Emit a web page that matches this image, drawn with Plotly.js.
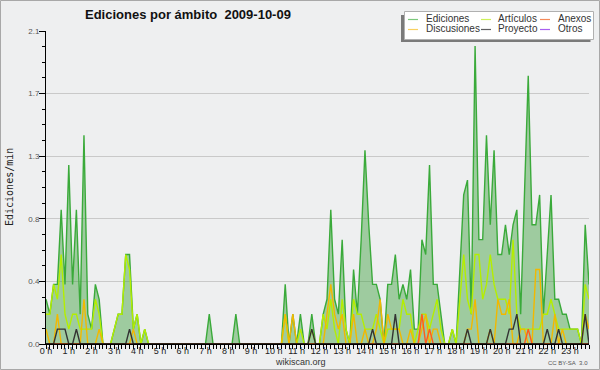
<!DOCTYPE html>
<html>
<head>
<meta charset="utf-8">
<script src="https://cdn.plot.ly/plotly-3.0.1.min.js"></script>
<style>
html,body{margin:0;padding:0;background:#eeeff0;}
#chart{width:600px;height:370px;}
</style>
</head>
<body>
<div id="chart"></div>
<script>
// ---- data (10-minute bins, edits per minute) ----
var chartTitle = "Ediciones por ámbito\u00a0 2009-10-09";
var yAxisTitle = "Ediciones/min";
var seriesNames = ["Ediciones", "Artículos", "Anexos", "Discusiones", "Proyecto", "Otros"];
var hourLabels = ["0 h","1 h","2 h","3 h","4 h","5 h","6 h","7 h","8 h","9 h","10 h","11 h",
                  "12 h","13 h","14 h","15 h","16 h","17 h","18 h","19 h","20 h","21 h","22 h","23 h"];
var yTickValues = [0, 0.42, 0.84, 1.26, 1.68, 2.1];
var yTickLabels = ["0.0", "0.4", "0.8", "1.3", "1.7", "2.1"];

var ediciones = [
0.3,0.2,0.4,0.4,0.9,0.4,1.2,0.4,0.9,0.2,1.4,0.2,
0.1,0.4,0.3,0,0,0,0.1,0.2,0.2,0.6,0.6,0.1,
0.2,0,0.1,0,0,0,0,0,0,0,0,0,
0,0,0,0,0,0,0,0.2,0,0,0,0,
0,0,0.2,0,0,0,0,0,0,0,0,0,
0,0,0,0.4,0,0.2,0,0.2,0,0,0.2,0,
0,0.2,0.3,0.9,0.3,0.2,0.7,0.1,0,0.5,0.2,0.7,
1.3,0.8,0.4,0.4,0.3,0,0.4,0.4,0.6,0.3,0.4,0.3,
0.5,0.1,0.1,0.7,0.6,1.2,0.4,0.4,0.2,0,0,0.1,
0,0.5,1.0,1.1,0.2,2.0,0.7,0.7,1.4,0.8,1.3,0.6,
0.6,0.8,0.6,0.8,0.9,0.2,1.0,1.8,0.8,0.8,1.0,0.2,
0.6,1.0,0.3,0.3,0.2,0.2,0.1,0.1,0.1,0,0.8,0.4];

var articulos = [
0.2,0.2,0.4,0.3,0.6,0.2,0.1,0.2,0.2,0.1,0.1,0.1,
0.1,0.3,0.2,0,0,0,0.1,0.2,0.2,0.6,0.5,0.1,
0.2,0,0.1,0,0,0,0,0,0,0,0,0,
0,0,0,0,0,0,0,0,0,0,0,0,
0,0,0,0,0,0,0,0,0,0,0,0,
0,0,0,0.2,0,0,0,0.1,0,0,0.1,0,
0,0.2,0.1,0.3,0.1,0,0.3,0.1,0,0.3,0.2,0.2,
0.1,0.1,0.1,0.2,0.1,0,0.1,0.1,0.1,0.1,0.3,0.2,
0.2,0,0.1,0.2,0.2,0.1,0.2,0.3,0.1,0,0,0.1,
0,0.3,0.6,0.3,0.2,0.6,0.6,0.3,0.4,0.6,0.4,0.3,
0.3,0.3,0.2,0.7,0.2,0.1,0.1,0.1,0.1,0.1,0.1,0.2,
0.2,0.3,0.2,0.1,0.1,0.1,0.1,0.1,0.1,0,0.4,0.3];

var anexos = [
0,0,0,0,0,0,0,0,0,0,0,0,
0,0,0,0,0,0,0,0,0,0,0,0,
0,0,0,0,0,0,0,0,0,0,0,0,
0,0,0,0,0,0,0,0,0,0,0,0,
0,0,0,0,0,0,0,0,0,0,0,0,
0,0,0,0,0,0,0,0,0,0,0,0,
0,0,0,0,0,0,0,0,0,0,0,0,
0,0,0,0,0,0,0,0,0,0,0,0,
0,0,0,0.2,0,0.1,0,0,0,0,0,0,
0,0,0,0,0,0,0,0,0,0,0,0,
0,0,0,0,0,0,0,0.1,0,0,0,0,
0,0,0,0,0,0,0,0,0,0,0,0];

var discusiones = [
0.1,0,0,0.2,0,0,0,0,0,0,0.3,0,
0,0,0.1,0,0,0,0,0,0,0,0,0.1,
0,0,0,0,0,0,0,0,0,0,0,0,
0,0,0,0,0,0,0,0,0,0,0,0,
0,0,0,0,0,0,0,0,0,0,0,0,
0,0,0,0.2,0,0.2,0,0,0,0,0,0,
0,0,0.2,0.4,0.2,0.1,0.2,0,0,0.2,0,0,
0.1,0,0,0.1,0.3,0,0.2,0.1,0.1,0.1,0,0,
0.1,0,0,0.1,0.2,0,0.1,0.1,0,0,0,0,
0,0,0,0.1,0.1,0.3,0,0,0,0.1,0,0.3,
0.2,0.2,0.3,0,0,0.1,0.1,0,0,0.5,0.5,0,
0,0,0.2,0,0.1,0,0,0,0,0,0.2,0.1];

var proyecto = [
0,0,0,0.1,0.1,0.1,0,0,0.1,0,0,0,
0,0,0,0,0,0,0,0,0,0,0.1,0,
0,0,0,0,0,0,0,0,0,0,0,0,
0,0,0,0,0,0,0,0,0,0,0,0,
0,0,0,0,0,0,0,0,0,0,0,0,
0,0,0,0,0,0,0,0,0,0,0.1,0,
0,0,0,0,0,0,0,0,0,0,0,0,
0,0,0.1,0,0,0,0,0,0.2,0,0,0,
0,0,0,0,0,0,0,0,0,0,0,0,
0,0,0,0.1,0,0,0,0,0,0.1,0,0,
0,0,0.1,0.1,0.2,0,0,0,0,0,0,0,
0.1,0,0,0.1,0,0,0,0,0,0,0.2,0];

var otros = [
0,0,0,0,0,0,0,0,0,0,0,0,
0,0,0,0,0,0,0,0,0,0,0,0,
0,0,0,0,0,0,0,0,0,0,0,0,
0,0,0,0,0,0,0,0,0,0,0,0,
0,0,0,0,0,0,0,0,0,0,0,0,
0,0,0,0,0,0,0,0,0,0,0,0,
0,0,0,0,0,0,0,0,0,0,0,0,
0,0,0,0,0,0,0,0,0,0,0,0,
0,0,0,0,0,0,0,0,0,0,0,0,
0,0,0,0,0,0,0,0,0,0,0,0,
0,0,0,0,0,0,0,0,0,0,0,0,
0,0,0,0,0,0,0,0,0,0,0,0];

// ---- styles ----
var colors = {
  "Ediciones": "#3aaa3a",
  "Artículos": "#b4ee00",
  "Anexos": "#ff5a1e",
  "Discusiones": "#f2b800",
  "Proyecto": "#333333",
  "Otros": "#9b45f0"
};
var swatchColors = {
  "Ediciones": "#7cc87c",
  "Artículos": "#cdf05a",
  "Anexos": "#f58a5a",
  "Discusiones": "#f8d060",
  "Proyecto": "#606060",
  "Otros": "#a860f0"
};
var W = 600, H = 370, ML = 46, MR = 11, MT = 31, MB = 26;
var PW = W - ML - MR, PH = H - MT - MB;
function px(x){ return (x - ML) / PW; }
function py(y){ return (H - MB - y) / PH; }
var FONT = "Liberation Sans, Arial, sans-serif";

// x position of each 10-minute bin, in hours
var xh = ediciones.map(function(_, i){ return i / 6; });
var hourTicks = hourLabels.map(function(_, h){ return h; });

var seriesData = {
  "Ediciones": ediciones, "Artículos": articulos, "Anexos": anexos,
  "Discusiones": discusiones, "Proyecto": proyecto, "Otros": otros
};
var drawOrder = ["Otros", "Ediciones", "Artículos", "Discusiones", "Anexos", "Proyecto"];
var traces = drawOrder.map(function(name){
  var t = {
    type: "scatter", mode: "lines", name: name, x: xh, y: seriesData[name],
    line: {color: colors[name], width: 1.4}, showlegend: false, hoverinfo: "skip"
  };
  if (name === "Ediciones") {
    t.fill = "tozeroy";
    t.fillcolor = "rgba(60,160,60,0.45)";
  }
  return t;
});

// ---- manual legend (3 columns x 2 rows) ----
var legCols = [408, 481, 540];
var legText = [424, 496, 555.5];
var legRows = [19.5, 29.5];
var shapes = [
  // outer frame
  {type:"rect", xref:"paper", yref:"paper", x0:px(0.5), x1:px(599.5), y0:py(0.5), y1:py(369.5),
   line:{color:"#a8a8a8", width:1}, layer:"above"},
  // baseline cover
  {type:"line", xref:"paper", yref:"paper", x0:0, x1:1, y0:py(344.3), y1:py(344.3),
   line:{color:"#000", width:1.6}, layer:"above"},
  // legend shadow
  {type:"rect", xref:"paper", yref:"paper", x0:px(401), x1:px(590.5), y0:py(15), y1:py(42),
   fillcolor:"#7a7a7a", line:{width:0}, layer:"above"},
  // legend box
  {type:"rect", xref:"paper", yref:"paper", x0:px(404.5), x1:px(593.5), y0:py(11.5), y1:py(39.5),
   fillcolor:"#ffffff", line:{color:"#b0b0b0", width:1}, layer:"above"}
];
var annotations = [
  {text: yAxisTitle, xref:"paper", yref:"paper", x:px(9.5), y:py(187.5), textangle:-90,
   showarrow:false, xanchor:"center", yanchor:"middle",
   font:{family:"DejaVu Sans Mono, monospace", size:10, color:"#222"}},
  {text:"wikiscan.org", xref:"paper", yref:"paper", x:px(300), y:py(362), showarrow:false,
   xanchor:"center", yanchor:"middle", font:{family:FONT, size:9, color:"#333"}},
  {text:"CC BY-SA\u00a0 3.0", xref:"paper", yref:"paper", x:px(589.5), y:py(362.5), showarrow:false,
   xanchor:"right", yanchor:"middle", font:{family:FONT, size:6, color:"#555"}}
];
seriesNames.forEach(function(name, k){
  var c = k % 3, r = Math.floor(k / 3);
  shapes.push({type:"line", xref:"paper", yref:"paper",
    x0:px(legCols[c]), x1:px(legCols[c] + 10), y0:py(legRows[r]), y1:py(legRows[r]),
    line:{color:swatchColors[name], width:1.2}, layer:"above"});
  annotations.push({text:name, xref:"paper", yref:"paper", x:px(legText[c]), y:py(legRows[r] - 0.5),
    showarrow:false, xanchor:"left", yanchor:"middle",
    font:{family:FONT, size:10, color:"#333"}});
});

var layout = {
  width: W, height: H,
  margin: {l: ML, r: MR, t: MT, b: MB, pad: 0},
  paper_bgcolor: "#eeeff0", plot_bgcolor: "#eeeff0",
  title: {text: "<b>" + chartTitle + "</b>", xref:"container", yref:"container",
          x: 85/W, xanchor:"left", y: 1 - 14/H, yanchor:"middle",
          font:{family:"Liberation Sans, Arial, sans-serif", size:13, color:"#111"}},
  showlegend: false,
  hovermode: false,
  xaxis: {
    range: [0, (ediciones.length - 1) / 6],
    tickmode: "array", tickvals: hourTicks, ticktext: hourLabels,
    ticks: "outside", ticklen: 4, tickwidth: 1, tickcolor: "#000",
    ticklabelstandoff: -6,
    showline: true, linecolor: "#000", linewidth: 1,
    showgrid: false, zeroline: false,
    tickfont: {family: FONT, size: 9, color: "#222"},
    minor: {dtick: 1/6, tick0: 0, ticks: "outside", ticklen: 4, tickwidth: 1, tickcolor: "#000", showgrid: false},
    fixedrange: true
  },
  yaxis: {
    range: [0, 2.1],
    tickmode: "array", tickvals: yTickValues, ticktext: yTickLabels,
    ticks: "outside", ticklen: 6, tickwidth: 1, tickcolor: "#000",
    ticklabelstandoff: -2,
    showline: true, linecolor: "#000", linewidth: 1,
    showgrid: true, gridcolor: "#c9c9c9", gridwidth: 1, zeroline: false,
    tickfont: {family: FONT, size: 8, color: "#555"},
    minor: {dtick: 0.105, tick0: 0, ticks: "outside", ticklen: 3, tickwidth: 1, tickcolor: "#000", showgrid: false},
    fixedrange: true
  },
  shapes: shapes,
  annotations: annotations
};

Plotly.newPlot("chart", traces, layout, {staticPlot: true, displayModeBar: false});
</script>
</body>
</html>
